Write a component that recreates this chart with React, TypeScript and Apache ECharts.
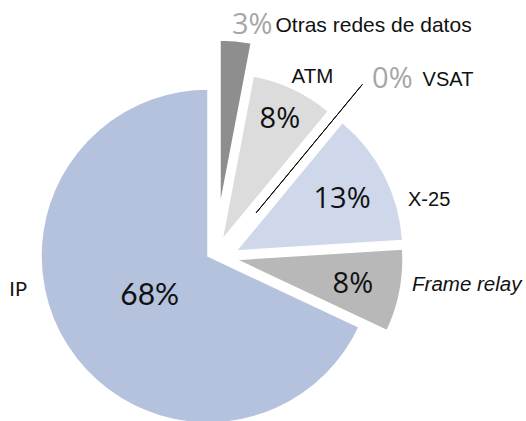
import React, { useEffect, useRef } from 'react';
import * as echarts from 'echarts';

// ---- data ----
const categories = ['Otras redes de datos', 'ATM', 'VSAT', 'X-25', 'Frame relay', 'IP'];
const shares = [3, 8, 0, 13, 8, 68];
const sliceColors = ['#8e8e8e', '#dcdcdc', '#000000', '#cfd7ea', '#b8b8b8', '#b4c2de'];

// ---- layout (per-slice explosion, label placement) ----
const R = 167;
const sliceCenters: number[][] = [
  [220, 207],
  [222, 240],
  [256, 213],
  [236, 251],
  [236, 259.5],
  [208, 256],
];
// outside name label: [labelLine length, length2]
const nameLabelLine: number[][] = [
  [18.8, -5.5],
  [15.3, -8],
  [9.6, 3.5],
  [-52.5, 70],
  [-41.3, 52.6],
  [-107.3, 130.6],
];
const nameFontSize = [21, 20.5, 20, 20, 20.5, 20];
// radius at which the inner percentage sits (0 = none)
const pctRadius = [0, 133, 0, 116, 116, 66];

const NAME_FONT = '"Liberation Sans", Arial, sans-serif';
const PCT_FONT = '"Open Sans", "Noto Sans", sans-serif';

function hiddenItem(name: string, value: number) {
  return {
    name,
    value,
    itemStyle: { color: 'rgba(0,0,0,0)', borderWidth: 0 },
    label: { show: false },
    labelLine: { show: false },
  };
}

function nameLabel(i: number) {
  const base: any = {
    show: true,
    position: 'outside',
    alignTo: 'none',
    distanceToLabelLine: 0,
    color: '#111',
    fontFamily: NAME_FONT,
    fontSize: nameFontSize[i],
  };
  if (i === 0 || i === 2) {
    base.formatter = '{p|{c}%}{n|{b}}';
    base.rich = {
      p: { fontFamily: PCT_FONT, fontSize: 29, color: '#a6a6a6', padding: [0, i === 2 ? 10 : 3, 0, 0] },
      n: { fontFamily: NAME_FONT, fontSize: nameFontSize[i], color: '#111', padding: [4, 0, 0, 0] },
    };
  } else {
    base.formatter = '{b}';
  }
  if (i === 4) base.fontStyle = 'italic';
  if (i === 5) base.fontFamily = 'Lato, sans-serif';
  return base;
}

function buildSeries() {
  const series: any[] = [];
  categories.forEach((_, i) => {
    series.push({
      type: 'pie',
      silent: true,
      startAngle: 90,
      clockwise: true,
      center: sliceCenters[i],
      radius: R,
      avoidLabelOverlap: false,
      minShowLabelAngle: 0,
      label: nameLabel(i),
      labelLine: { show: false, length: nameLabelLine[i][0], length2: nameLabelLine[i][1] },
      emphasis: { disabled: true },
      data: categories.map((name, j) =>
        j === i
          ? {
              name,
              value: shares[j],
              itemStyle: {
                color: sliceColors[j],
                borderColor: j === 2 ? '#000' : '#fff',
                borderWidth: j === 2 ? 1 : 1.5,
              },
            }
          : hiddenItem(name, shares[j])
      ),
    });
  });
  categories.forEach((_, i) => {
    const pr = pctRadius[i];
    if (!pr) return;
    const radius = 2 * pr >= R ? [2 * pr - R, R] : [0, 2 * pr];
    series.push({
      type: 'pie',
      silent: true,
      startAngle: 90,
      clockwise: true,
      center: sliceCenters[i],
      radius,
      avoidLabelOverlap: false,
      label: {
        show: true,
        position: 'inside',
        formatter: '{c}%',
        fontFamily: i === 5 ? 'Lato, sans-serif' : PCT_FONT,
        fontSize: i === 5 ? 30 : 29,
        color: '#111',
      },
      labelLine: { show: false },
      emphasis: { disabled: true },
      data: categories.map((name, j) =>
        j === i
          ? { name, value: shares[j], itemStyle: { color: 'rgba(0,0,0,0)', borderWidth: 0 } }
          : hiddenItem(name, shares[j])
      ),
    });
  });
  return series;
}

export default function App() {
  const ref = useRef<HTMLDivElement>(null);
  useEffect(() => {
    document.body.style.margin = '0';
    if (!ref.current) return;
    const chart = echarts.init(ref.current, undefined, { renderer: 'svg' });
    chart.setOption({
      animation: false,
      backgroundColor: '#ffffff',
      tooltip: { show: false },
      series: buildSeries(),
    });
    return () => chart.dispose();
  }, []);
  return <div ref={ref} style={{ width: 526, height: 421 }} />;
}
